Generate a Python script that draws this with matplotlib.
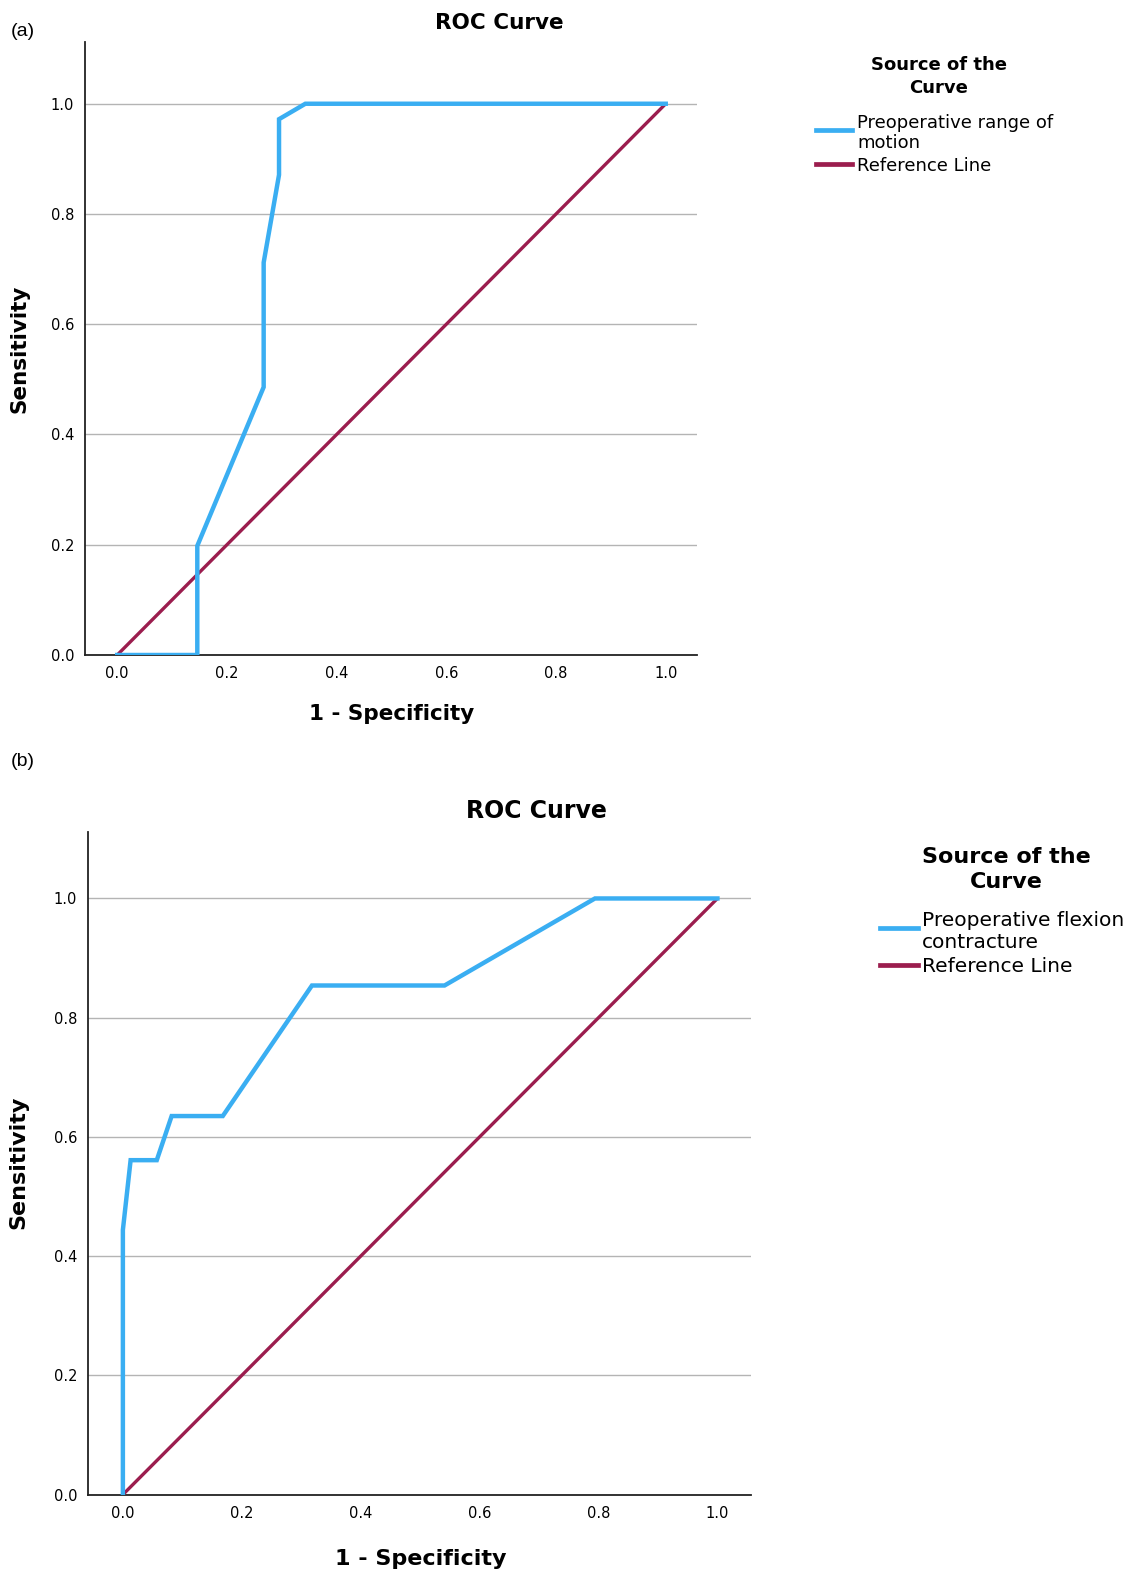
import matplotlib
matplotlib.use("Agg")
import matplotlib.pyplot as plt
from matplotlib.lines import Line2D

# ROC curve (a): preoperative range of motion
fpr_a = [0.0, 0.146, 0.146, 0.267, 0.267, 0.295, 0.295, 0.343, 1.0]
tpr_a = [0.0, 0.0, 0.198, 0.486, 0.712, 0.871, 0.972, 1.0, 1.0]

# ROC curve (b): preoperative flexion contracture
fpr_b = [0.0, 0.0, 0.013, 0.057, 0.082, 0.168, 0.318, 0.541, 0.794, 1.0]
tpr_b = [0.0, 0.444, 0.561, 0.561, 0.635, 0.635, 0.854, 0.854, 1.0, 1.0]

ref_x = [0.0, 1.0]
ref_y = [0.0, 1.0]

ticks = [0.0, 0.2, 0.4, 0.6, 0.8, 1.0]
tick_labels = ["0.0", "0.2", "0.4", "0.6", "0.8", "1.0"]
labels_a = ["Preoperative range of", "motion", "Reference Line"]
labels_b = ["Preoperative flexion", "contracture", "Reference Line"]

BLUE = "#3AAEF2"
RED = "#9B1D4E"
W, H = 1130, 1575

plt.rcParams["font.family"] = ["DejaVu Sans"]
fig = plt.figure(figsize=(W / 100, H / 100), dpi=100)


def fx(px):
    return px / W


def fy(py):
    return 1 - py / H


def roc_panel(rect, fpr, tpr):
    left, right, top, bottom = rect
    ax = fig.add_axes([fx(left), fy(bottom), fx(right - left), (bottom - top) / H])
    ax.plot(ref_x, ref_y, color=RED, lw=2.4, zorder=3, solid_capstyle="butt")
    ax.plot(fpr, tpr, color=BLUE, lw=3.2, zorder=4, solid_joinstyle="miter")
    ax.set_xlim(-0.058, 1.057)
    ax.set_ylim(0, 1.112)
    ax.set_xticks(ticks)
    ax.set_xticklabels(tick_labels)
    ax.set_yticks(ticks)
    ax.set_yticklabels(tick_labels)
    ax.tick_params(length=0, labelsize=10.5, pad=8)
    ax.grid(axis="y", color="#b4b4b4", lw=1)
    ax.set_axisbelow(True)
    for s in ["top", "right"]:
        ax.spines[s].set_visible(False)
    for s in ["left", "bottom"]:
        ax.spines[s].set_color("#222222")
        ax.spines[s].set_linewidth(1.3)
    return ax


def legend_block(cx, y_title, x_line, x_text, y_rows, y_lines, labels, fs_title, fs_item):
    # hand-built legend: title lines, then the two swatches with their labels
    fig.text(fx(cx), fy(y_title[0]), "Source of the", ha="center", va="center",
             fontsize=fs_title, fontweight="bold")
    fig.text(fx(cx), fy(y_title[1]), "Curve", ha="center", va="center",
             fontsize=fs_title, fontweight="bold")
    for y, col in zip(y_lines, [BLUE, RED]):
        fig.add_artist(Line2D([fx(x_line[0]), fx(x_line[1])], [fy(y)] * 2,
                              color=col, lw=3.4, transform=fig.transFigure))
    for y, lab in zip(y_rows, labels):
        fig.text(fx(x_text), fy(y), lab, ha="left", va="center", fontsize=fs_item)


# panel (a)
roc_panel((85.4, 697, 42, 655), fpr_a, tpr_a)
fig.text(fx(11), fy(31), "(a)", family=["Liberation Sans"], fontsize=14, va="center")
fig.text(fx(499), fy(23), "ROC Curve", ha="center", va="center", fontsize=15.5, fontweight="bold")
fig.text(fx(392), fy(714), "1 - Specificity", ha="center", va="center", fontsize=15.5, fontweight="bold")
fig.text(fx(20), fy(349), "Sensitivity", ha="center", va="center", rotation=90, fontsize=15.5, fontweight="bold")
legend_block(939, (65, 88), (816, 852), 857, (123, 143, 166), (130, 164), labels_a, 13, 13)

# panel (b)
roc_panel((88.4, 751.3, 831.7, 1494.6), fpr_b, tpr_b)
fig.text(fx(11), fy(762), "(b)", family=["Liberation Sans"], fontsize=14, va="center")
fig.text(fx(536), fy(811), "ROC Curve", ha="center", va="center", fontsize=17, fontweight="bold")
fig.text(fx(421), fy(1559), "1 - Specificity", ha="center", va="center", fontsize=16, fontweight="bold")
fig.text(fx(18), fy(1162), "Sensitivity", ha="center", va="center", rotation=90, fontsize=16, fontweight="bold")
legend_block(1006, (857, 882), (880, 918), 922, (920, 942, 967), (928, 965), labels_b, 16, 14.5)

fig.savefig("out.png", dpi=100, facecolor="white")
